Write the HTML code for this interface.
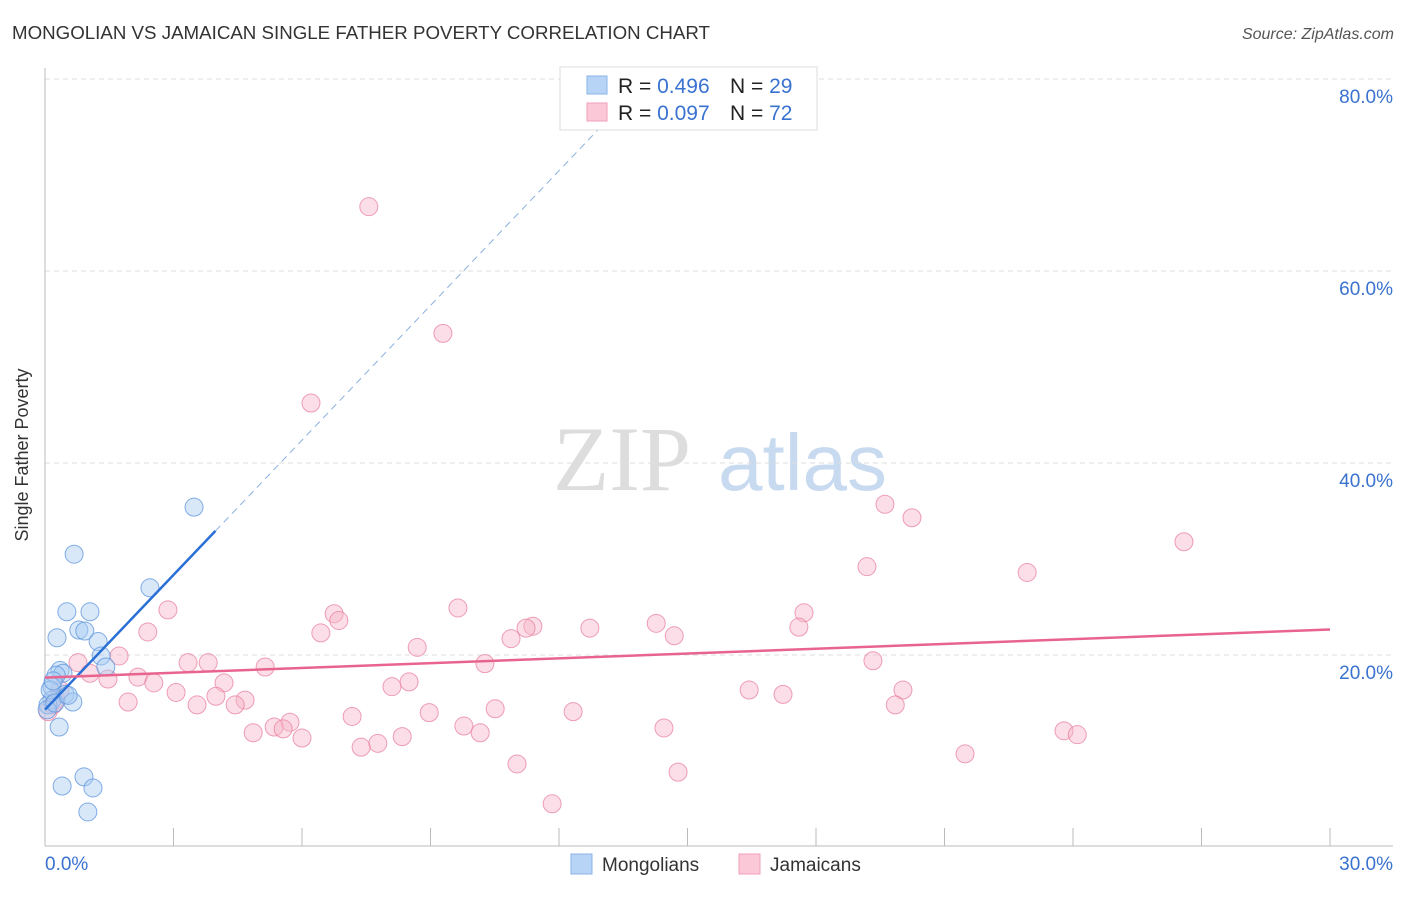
<!DOCTYPE html>
<html><head><meta charset="utf-8"><style>
body{margin:0;background:#fff;font-family:"Liberation Sans",sans-serif;}
svg text{font-family:"Liberation Sans",sans-serif;}
</style></head><body>
<svg id="chart" width="1406" height="892" xmlns="http://www.w3.org/2000/svg">
<text x="12" y="39" font-size="18" fill="#333" textLength="698" lengthAdjust="spacingAndGlyphs">MONGOLIAN VS JAMAICAN SINGLE FATHER POVERTY CORRELATION CHART</text>
<text x="1394" y="39" font-size="16" fill="#555" font-style="italic" text-anchor="end">Source: ZipAtlas.com</text>
<g>
<text x="553" y="490" font-size="92" fill="#ddd" style="font-family:'Liberation Serif',serif">ZIP</text>
<text x="718" y="490" font-size="80" fill="#c8daf0">atlas</text>
</g>
<g id="grid"></g>
<g id="axes"></g>
<g id="marks"></g>
<text x="28" y="455" font-size="18" fill="#333" text-anchor="middle" transform="rotate(-90 28 455)">Single Father Poverty</text>
<g>
<rect x="560" y="67" width="257" height="63" fill="#fff" stroke="#ddd"/>
<rect x="587" y="76" width="20" height="18" fill="#b7d3f5" stroke="#8ab4e8"/>
<rect x="587" y="103" width="20" height="18" fill="#fac8d7" stroke="#f0a0b8"/>
<text x="618" y="93" font-size="21" fill="#222">R = <tspan fill="#3a72d0">0.496</tspan></text>
<text x="730" y="93" font-size="21" fill="#222">N = <tspan fill="#3a72d0">29</tspan></text>
<text x="618" y="120" font-size="21" fill="#222">R = <tspan fill="#3a72d0">0.097</tspan></text>
<text x="730" y="120" font-size="21" fill="#222">N = <tspan fill="#3a72d0">72</tspan></text>
</g>
<g>
<rect x="571" y="854" width="21" height="20" fill="#b7d3f5" stroke="#8ab4e8"/>
<text x="602" y="871" font-size="19" fill="#333">Mongolians</text>
<rect x="739" y="854" width="21" height="20" fill="#fac8d7" stroke="#f0a0b8"/>
<text x="770" y="871" font-size="19" fill="#333">Jamaicans</text>
</g>
</svg>
<script>
const yTicks=[20,40,60,80];
const yTickLabels=["20.0%","40.0%","60.0%","80.0%"];
const xTickLabels=["0.0%","30.0%"];
const mongX=[3.48,0.68,2.45,0.51,1.05,0.79,0.93,0.28,1.24,1.31,1.42,0.35,0.42,0.26,0.16,0.47,0.65,0.16,0.07,0.33,0.91,0.40,1.12,1.0,0.12,0.05,0.23,0.54,0.19];
const mongY=[35.4,30.5,27.0,24.5,24.5,22.6,22.5,21.8,21.4,19.9,18.75,18.4,18.1,17.9,16.7,15.9,15.1,15.3,14.8,12.5,7.3,6.35,6.15,3.65,16.35,14.3,15.0,15.8,17.3];
const jamX=[7.56,9.29,6.21,19.61,20.24,26.59,19.19,22.93,9.64,2.87,6.75,6.86,17.72,11.39,11.23,12.72,14.27,2.40,6.44,14.69,17.60,10.88,8.69,1.73,3.34,3.81,19.33,10.27,5.14,0.77,1.05,1.47,2.17,2.54,4.18,8.50,8.10,3.06,3.99,4.67,1.94,16.44,17.23,20.03,3.55,4.44,19.85,0.19,0.07,7.17,8.97,12.33,10.51,5.72,5.35,9.78,4.86,5.56,6.0,10.16,14.45,23.79,24.10,7.77,7.38,8.34,21.48,11.02,14.78,11.84,0.26,0.35];
const jamY=[66.7,53.5,46.25,35.7,34.3,31.8,29.2,28.6,24.9,24.7,24.3,23.6,24.4,23.0,22.8,22.8,23.3,22.4,22.3,22.0,22.9,21.7,20.8,19.9,19.2,19.2,19.4,19.1,18.75,19.2,18.1,17.5,17.7,17.1,17.1,17.2,16.7,16.1,15.7,15.3,15.1,16.35,15.9,16.35,14.8,14.8,14.8,14.8,14.1,13.6,14.0,14.1,14.4,13.0,12.5,12.6,11.9,12.3,11.35,11.9,12.4,12.1,11.7,10.8,10.4,11.5,9.7,8.65,7.8,4.5,15.3,16.35];
const NS="http://www.w3.org/2000/svg";
const X=v=>45+v/30*1285, Y=v=>847-v*9.6;
function mk(t,a,p){const e=document.createElementNS(NS,t);for(const k in a)e.setAttribute(k,a[k]);document.getElementById(p).appendChild(e);return e;}
yTicks.forEach((t,i)=>{
 const l=mk('line',{x1:45,x2:1393,y1:Y(t),y2:Y(t),stroke:'#ddd','stroke-dasharray':'5,4'},'grid');
 
 
 const tx=mk('text',{x:1393,y:Y(t)+24,'font-size':19,fill:'#3a72d0','text-anchor':'end'},'axes');
 tx.textContent=yTickLabels[i];
 
 
});
const ax=mk('line',{x1:45,x2:45,y1:68,y2:846,stroke:'#bbb'},'axes');


const bx=mk('line',{x1:45,x2:1393,y1:846,y2:846,stroke:'#bbb'},'axes');


for(let i=0;i<=10;i++){
 const t=mk('line',{x1:X(i*3),x2:X(i*3),y1:828,y2:846,stroke:'#bbb'},'axes');
 
 
}
[[0,'start',45],[30,'end',1393]].forEach((d,i)=>{
 const t=mk('text',{x:d[2],y:870,'font-size':19,fill:'#3a72d0','text-anchor':d[1]},'axes');
 t.textContent=xTickLabels[i];
 
 
});
function fit(xs,ys){const n=xs.length;let mx=0,my=0;for(let i=0;i<n;i++){mx+=xs[i];my+=ys[i];}mx/=n;my/=n;let sxy=0,sxx=0;for(let i=0;i<n;i++){sxy+=(xs[i]-mx)*(ys[i]-my);sxx+=(xs[i]-mx)**2;}const b=sxy/sxx;return [my-b*mx,b];}
function pts(xs,ys,f,s,name){xs.forEach((x,i)=>{const c=mk('circle',{cx:X(x),cy:Y(ys[i]),r:9,fill:f,'fill-opacity':0.45,stroke:s,'stroke-opacity':0.75,'stroke-width':1},'marks');
 
 });}
pts(jamX,jamY,'#f7b6ca','#e8809f','jamaican-point');
pts(mongX,mongY,'#a9cbf2','#5b93dc','mongolian-point');
const fm=fit(mongX,mongY), fj=fit(jamX,jamY);
const xe=Math.max(...mongX)+0.5;
let l=mk('line',{x1:X(0),y1:Y(fm[0]),x2:X(xe),y2:Y(fm[0]+fm[1]*xe),stroke:'#2a6fd6','stroke-width':2.5},'marks');


const xt=(75-fm[0])/fm[1];
l=mk('line',{x1:X(xe),y1:Y(fm[0]+fm[1]*xe),x2:X(xt),y2:Y(75),stroke:'#8ab0e0','stroke-width':1,'stroke-dasharray':'7,5'},'marks');


l=mk('line',{x1:X(0),y1:Y(fj[0]),x2:X(30),y2:Y(fj[0]+fj[1]*30),stroke:'#e8648e','stroke-width':2.5},'marks');


</script>
</body></html>
